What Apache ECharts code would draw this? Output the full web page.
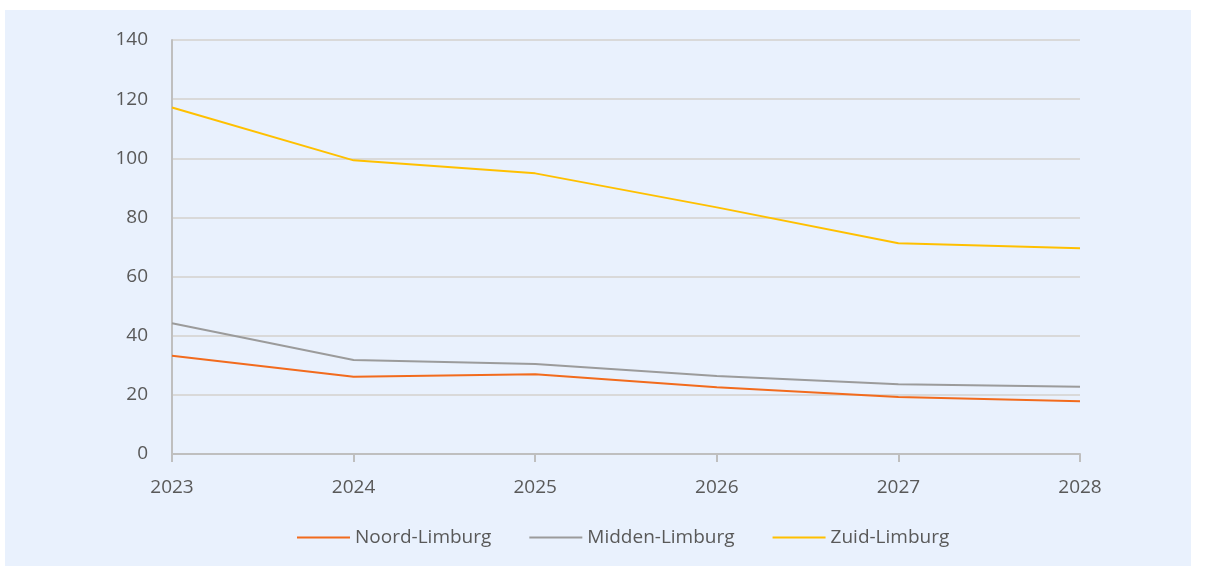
<!DOCTYPE html>
<html>
<head>
<meta charset="utf-8">
<script src="https://cdn.jsdelivr.net/npm/echarts@6/dist/echarts.min.js"></script>
<style>
  html, body { margin: 0; padding: 0; background: #fff; }
  #frame { position: absolute; left: 5px; top: 10px; width: 1186px; height: 556px; background: #e9f1fd; }
  #chart { width: 1186px; height: 556px; }
</style>
</head>
<body>
<div id="frame"><div id="chart"></div></div>
<script>
const years = ['2023', '2024', '2025', '2026', '2027', '2028'];
const noordLimburg = [33.2, 26.1, 27.0, 22.6, 19.3, 17.8];
const middenLimburg = [44.2, 31.8, 30.4, 26.4, 23.6, 22.7];
const zuidLimburg = [117.2, 99.3, 94.9, 83.4, 71.3, 69.6];

const myChart = echarts.init(document.getElementById('chart'));

const lineSeries = (name, data, color) => ({
  name: name,
  type: 'line',
  data: data,
  symbol: 'none',
  lineStyle: { width: 2, color: color },
  itemStyle: { color: color }
});

const option = {
  animation: false,
  textStyle: { fontFamily: 'Open Sans' },
  legend: {
    top: 513,
    left: 287,
    itemWidth: 53,
    itemHeight: 2,
    itemGap: 38,
    icon: 'rect',
    textStyle: { fontSize: 19, color: '#595959', fontFamily: 'Open Sans' },
    data: ['Noord-Limburg', 'Midden-Limburg', 'Zuid-Limburg']
  },
  grid: {
    left: 167,
    right: 111,
    top: 30,
    bottom: 112
  },
  xAxis: {
    type: 'category',
    data: years,
    boundaryGap: false,
    axisLine: { lineStyle: { color: '#bfbfbf', width: 2 } },
    axisTick: { show: true, length: 8, lineStyle: { color: '#bfbfbf', width: 2 } },
    axisLabel: { fontSize: 19, color: '#595959', margin: 24 }
  },
  yAxis: {
    type: 'value',
    min: 0,
    max: 140,
    interval: 20,
    axisLine: { show: true, lineStyle: { color: '#bfbfbf', width: 2 } },
    axisTick: { show: false },
    axisLabel: { fontSize: 19, color: '#595959', margin: 24 },
    splitLine: { lineStyle: { color: '#d9d9d9', width: 2 } }
  },
  series: [
    lineSeries('Noord-Limburg', noordLimburg, '#f26b1d'),
    lineSeries('Midden-Limburg', middenLimburg, '#9b9b9b'),
    lineSeries('Zuid-Limburg', zuidLimburg, '#ffc000')
  ]
};

myChart.setOption(option);
</script>
</body>
</html>
